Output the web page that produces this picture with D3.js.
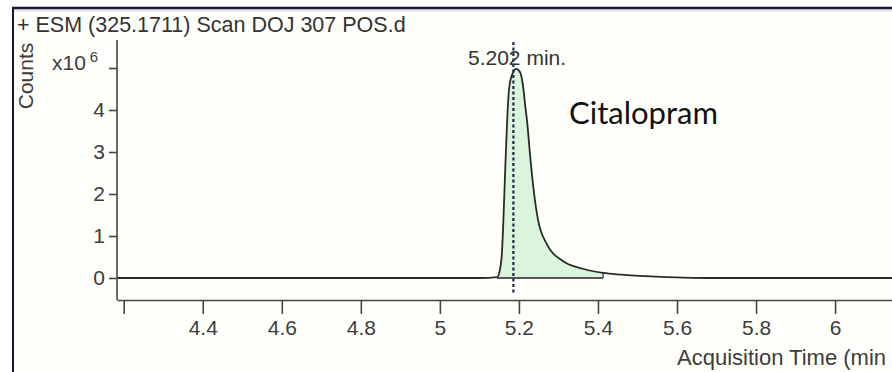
<!DOCTYPE html>
<html>
<head>
<meta charset="utf-8">
<script src="https://cdn.jsdelivr.net/npm/d3@7"></script>
<style>
  html, body { margin: 0; padding: 0; background: #ffffff; }
  svg { display: block; }
</style>
</head>
<body>
<svg id="chart" width="892" height="372"></svg>
<script>
// ---- data ----
const titleText = "+ ESM (325.1711) Scan DOJ 307 POS.d";
const yAxisLabel = "Counts";
const xAxisLabel = "Acquisition Time (min";
const compoundName = "Citalopram";
const peakLabel = "5.202 min.";
const peakMarkerTime = 5.186;           // position of dotted retention-time marker
const xTicks = [4.2, 4.4, 4.6, 4.8, 5.0, 5.2, 5.4, 5.6, 5.8, 6.0];
const xTickLabels = ["", "4.4", "4.6", "4.8", "5", "5.2", "5.4", "5.6", "5.8", "6"];
const yTicks = [0, 1, 2, 3, 4, 5];
const yTickLabels = ["0", "1", "2", "3", "4", ""];
// chromatogram (time in min, counts in x10^6)
const times  = [4.184, 4.60, 5.10, 5.145, 5.152, 5.157, 5.160, 5.165, 5.170, 5.175, 5.183, 5.193, 5.203, 5.210, 5.216, 5.221, 5.228, 5.236, 5.248, 5.271, 5.312, 5.362, 5.413, 5.46, 5.506, 5.56, 5.615, 5.70, 6.00, 6.30];
const counts = [0,     0,    0,    0.02,  0.20,  0.60,  1.20,  2.50,  3.70,  4.50,  4.85,  4.98,  4.90,  4.60,  4.10,  3.70,  2.95,  2.20,  1.40,  0.80,  0.40,  0.22,  0.12,  0.08, 0.05,  0.025, 0.01, 0,    0,    0];
const integStart = 5.145, integEnd = 5.413;

// ---- layout ----
const W = 892, H = 372;
const plotLeft = 117, plotRight = 892, plotTop = 40, plotBottom = 300;
const font = "'Liberation Sans', Arial, sans-serif";
const textColor = "#3c3c3c";

const svg = d3.select("#chart");

// frame
svg.append("rect").attr("x", 13).attr("y", 8).attr("width", W - 13).attr("height", H - 8)
  .attr("fill", "#fffffb");
svg.append("line").attr("x1", 13).attr("x2", W).attr("y1", 10.5).attr("y2", 10.5)
  .attr("stroke", "#d8d8ea").attr("stroke-width", 1.5);
svg.append("line").attr("x1", 12).attr("x2", W).attr("y1", 8).attr("y2", 8)
  .attr("stroke", "#16163a").attr("stroke-width", 2.5);
svg.append("line").attr("x1", 13).attr("x2", 13).attr("y1", 7).attr("y2", H)
  .attr("stroke", "#16163a").attr("stroke-width", 2);

const x = d3.scaleLinear().domain([4.183, 6.144]).range([plotLeft, plotRight]);
const y = d3.scaleLinear().domain([0, 5]).range([278, 68]);

// title
svg.append("text").attr("x", 17).attr("y", 31.5)
  .attr("font-family", font).attr("font-size", 21.5).attr("fill", "#333")
  .text(titleText);

// y label
svg.append("text").attr("transform", "translate(33,76) rotate(-90)")
  .attr("text-anchor", "middle").attr("font-family", font).attr("font-size", 21)
  .attr("fill", textColor).text(yAxisLabel);

// x10^6
const mult = svg.append("text").attr("x", 52).attr("y", 70)
  .attr("font-family", font).attr("font-size", 21).attr("fill", textColor);
mult.append("tspan").text("x10");
mult.append("tspan").attr("dx", 4).attr("dy", -8).attr("font-size", 15).text("6");

// peak fill (integration region)
const area = d3.area().x(d => x(d[0])).y0(y(0)).y1(d => y(d[1])).curve(d3.curveMonotoneX);
const integ = times.map((t, i) => [t, counts[i]]).filter(d => d[0] >= integStart && d[0] <= integEnd);
svg.append("path").datum(integ).attr("d", area).attr("fill", "#dbf4dc").attr("stroke", "none");
// integration baseline + end marker
svg.append("line").attr("x1", x(integStart)).attr("x2", x(integEnd))
  .attr("y1", y(0)).attr("y2", y(0)).attr("stroke", "#222").attr("stroke-width", 1.5);
svg.append("line").attr("x1", x(integEnd)).attr("x2", x(integEnd))
  .attr("y1", y(0)).attr("y2", y(counts[times.indexOf(integEnd)]))
  .attr("stroke", "#333").attr("stroke-width", 1.2);

// chromatogram line
const line = d3.line().x(d => x(d[0])).y(d => y(d[1])).curve(d3.curveMonotoneX);
svg.append("path").datum(times.map((t, i) => [t, counts[i]]))
  .attr("d", line).attr("fill", "none").attr("stroke", "#2a2a2a").attr("stroke-width", 1.8);

// x axis
const xAxis = d3.axisBottom(x).tickValues(xTicks).tickSize(14).tickSizeOuter(0).tickPadding(6)
  .tickFormat((d, i) => xTickLabels[i]);
const gx = svg.append("g").attr("transform", `translate(0,${plotBottom})`).call(xAxis);
gx.select(".domain").attr("stroke", "#444").attr("stroke-width", 1.6);
gx.selectAll(".tick line").attr("stroke", "#444").attr("stroke-width", 1.6);
gx.selectAll(".tick text").attr("font-family", font).attr("font-size", 21).attr("fill", textColor);

// y axis
const yAxis = d3.axisLeft(y).tickValues(yTicks).tickSize(8).tickSizeOuter(0).tickPadding(4)
  .tickFormat((d, i) => yTickLabels[i]);
const gy = svg.append("g").attr("transform", `translate(${plotLeft},0)`).call(yAxis);
gy.select(".domain").remove();
gy.selectAll(".tick line").attr("stroke", "#444").attr("stroke-width", 1.6);
gy.selectAll(".tick text").attr("font-family", font).attr("font-size", 21).attr("fill", textColor);
svg.append("line").attr("x1", plotLeft).attr("x2", plotLeft).attr("y1", plotTop).attr("y2", plotBottom)
  .attr("stroke", "#444").attr("stroke-width", 1.6);

// x axis title
svg.append("text").attr("x", 677).attr("y", 365)
  .attr("font-family", font).attr("font-size", 22).attr("fill", textColor)
  .text(xAxisLabel);

// retention time marker
svg.append("line").attr("x1", x(peakMarkerTime)).attr("x2", x(peakMarkerTime))
  .attr("y1", 42).attr("y2", 294)
  .attr("stroke", "#1b2a48").attr("stroke-width", 2.2).attr("stroke-dasharray", "3,2.5");
svg.append("text").attr("x", 468).attr("y", 65)
  .attr("font-family", font).attr("font-size", 21).attr("fill", "#333")
  .text(peakLabel);

// compound name
svg.append("text").attr("x", 569).attr("y", 124)
  .attr("font-family", "Lato, 'Open Sans', sans-serif").attr("font-size", 31).attr("fill", "#111")
  .text(compoundName);
</script>
</body>
</html>
